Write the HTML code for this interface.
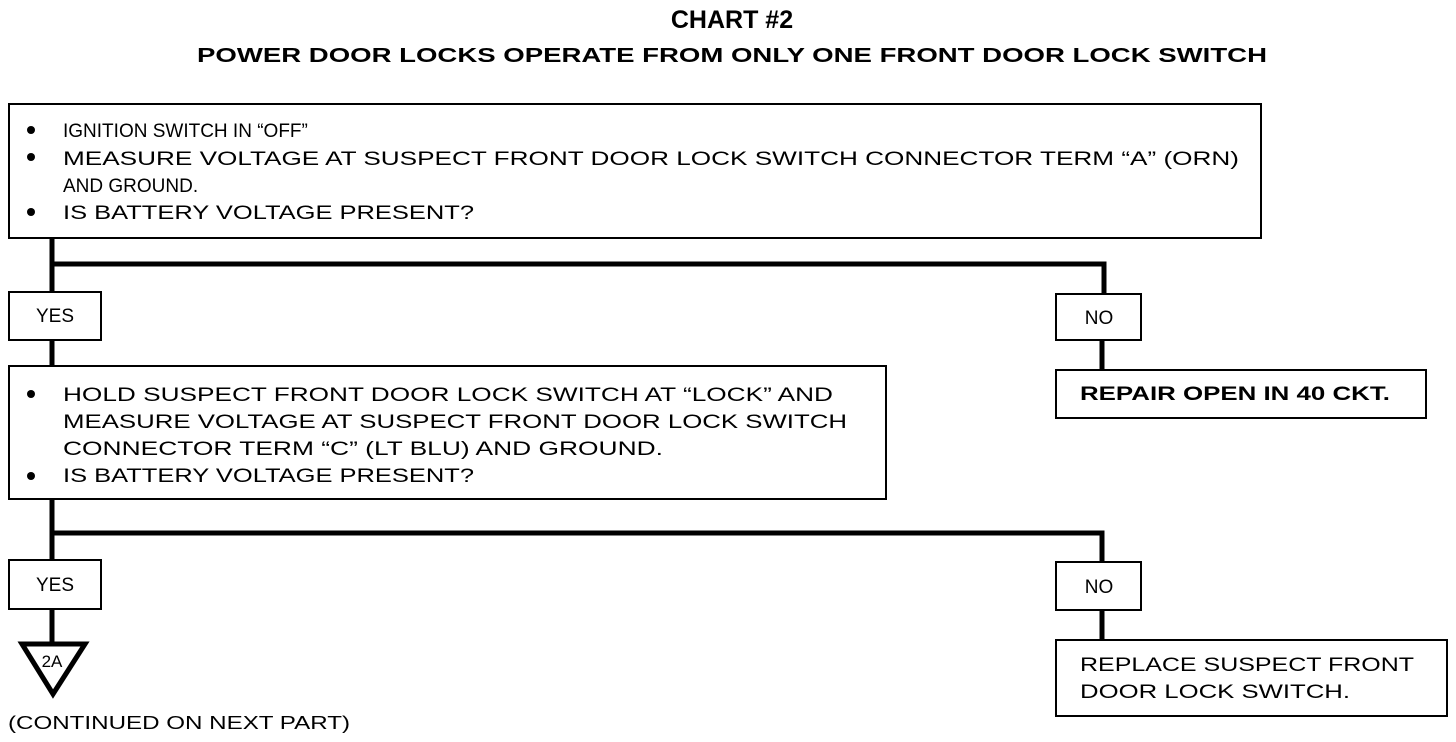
<!DOCTYPE html>
<html><head><meta charset="utf-8"><style>
html,body{margin:0;padding:0;background:#fff;}
svg{display:block;}
text{font-family:"Liberation Sans",sans-serif;fill:#000;}
</style></head><body>
<svg width="1456" height="742" viewBox="0 0 1456 742" xmlns="http://www.w3.org/2000/svg">
<text x="732" y="28" font-size="25" font-weight="bold" text-anchor="middle">CHART #2</text>
<text x="732" y="62" font-size="20" font-weight="bold" text-anchor="middle" textLength="1070" lengthAdjust="spacingAndGlyphs">POWER DOOR LOCKS OPERATE FROM ONLY ONE FRONT DOOR LOCK SWITCH</text>

<g fill="none" stroke="#000" stroke-width="2">
<rect x="9" y="104" width="1252" height="134"/>
<rect x="9" y="292" width="92" height="48"/>
<rect x="1056" y="294" width="85" height="46"/>
<rect x="1056" y="370" width="370" height="48"/>
<rect x="9" y="366" width="877" height="133"/>
<rect x="9" y="560" width="92" height="49"/>
<rect x="1056" y="562" width="85" height="48"/>
<rect x="1056" y="640" width="391" height="76"/>
</g>
<g stroke="#000" stroke-width="5" fill="none">
<line x1="52" y1="238" x2="52" y2="292"/>
<polyline points="52,264 1104,264 1104,294"/>
<line x1="1102" y1="340" x2="1102" y2="370"/>
<line x1="52" y1="340" x2="52" y2="366"/>
<line x1="52" y1="499" x2="52" y2="560"/>
<polyline points="52,533 1102,533 1102,562"/>
<line x1="1102" y1="610" x2="1102" y2="640"/>
<line x1="52" y1="609" x2="52" y2="644"/>
<polygon points="22,644 85,644 53,694" stroke-width="5" stroke-linejoin="miter"/>
</g>
<text x="52" y="667" font-size="17" text-anchor="middle">2A</text>

<g font-size="19">
<circle cx="31" cy="130" r="4"/><circle cx="31" cy="157" r="4"/><circle cx="31" cy="212" r="4"/>
<text x="63" y="137" font-size="19">IGNITION SWITCH IN “OFF”</text>
<text x="63" y="165" textLength="1176" lengthAdjust="spacingAndGlyphs">MEASURE VOLTAGE AT SUSPECT FRONT DOOR LOCK SWITCH CONNECTOR TERM “A” (ORN)</text>
<text x="63" y="192">AND GROUND.</text>
<text x="63" y="219" textLength="411" lengthAdjust="spacingAndGlyphs">IS BATTERY VOLTAGE PRESENT?</text>

<text x="55" y="322" text-anchor="middle">YES</text>
<text x="1099" y="324" text-anchor="middle">NO</text>
<text x="1080" y="400" font-weight="bold" textLength="310" lengthAdjust="spacingAndGlyphs">REPAIR OPEN IN 40 CKT.</text>

<circle cx="31" cy="394" r="4"/><circle cx="31" cy="476" r="4"/>
<text x="63" y="401" textLength="770" lengthAdjust="spacingAndGlyphs">HOLD SUSPECT FRONT DOOR LOCK SWITCH AT “LOCK” AND</text>
<text x="63" y="428" textLength="784" lengthAdjust="spacingAndGlyphs">MEASURE VOLTAGE AT SUSPECT FRONT DOOR LOCK SWITCH</text>
<text x="63" y="455" textLength="600" lengthAdjust="spacingAndGlyphs">CONNECTOR TERM “C” (LT BLU) AND GROUND.</text>
<text x="63" y="482" textLength="411" lengthAdjust="spacingAndGlyphs">IS BATTERY VOLTAGE PRESENT?</text>

<text x="55" y="591" text-anchor="middle">YES</text>
<text x="1099" y="593" text-anchor="middle">NO</text>
<text x="1080" y="671" textLength="334" lengthAdjust="spacingAndGlyphs">REPLACE SUSPECT FRONT</text>
<text x="1080" y="698" textLength="270" lengthAdjust="spacingAndGlyphs">DOOR LOCK SWITCH.</text>

<text x="8" y="729" font-size="18" textLength="342" lengthAdjust="spacingAndGlyphs">(CONTINUED ON NEXT  PART)</text>
</g>
</svg>
</body></html>
